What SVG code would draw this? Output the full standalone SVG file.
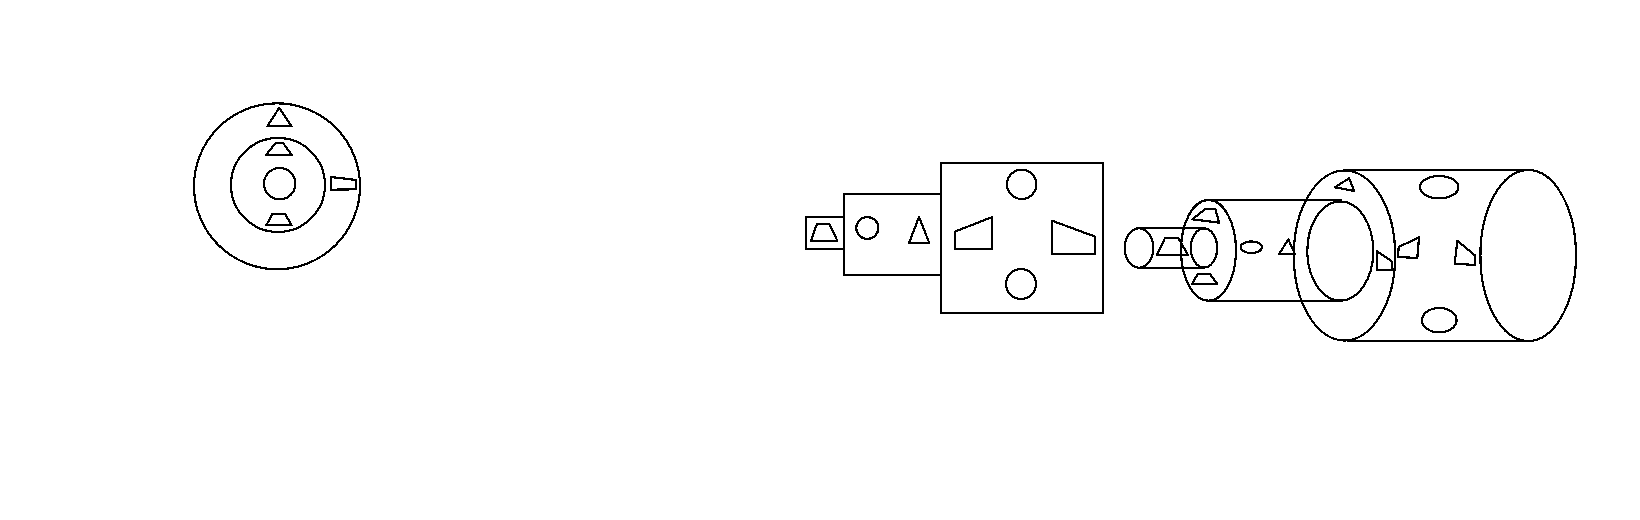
<svg xmlns="http://www.w3.org/2000/svg" width="1640" height="520" viewBox="0 0 1640 520">
<style>
.s{fill:none;stroke:#000;stroke-width:2.2;shape-rendering:crispEdges;stroke-linejoin:round}
</style>
<rect width="1640" height="520" fill="#fff"/>
<g id="end-view" class="s">
<circle cx="277" cy="186.3" r="83"/>
<circle cx="278" cy="185" r="47"/>
<circle cx="279.7" cy="183.7" r="15.7"/>
<polygon points="279.3,107.7 267.3,126.3 291.7,126.3"/>
<polygon points="275.3,143.3 283.3,143.3 291.7,155 266,155"/>
<polygon points="272.3,214 285,214 291.7,225.3 266.3,225.3"/>
<polygon points="331,177 356.3,180 355.7,189.3 331,189.7"/>
</g>
<g id="side-view" class="s">
<rect x="805.7" y="216.7" width="38" height="32"/>
<rect x="843.7" y="193.7" width="97" height="81.3"/>
<rect x="941" y="163" width="162" height="150"/>
<polygon points="817,223.7 829.3,223.7 837.3,240.7 811,240.7"/>
<circle cx="867.3" cy="228" r="11"/>
<polygon points="919,217 909,243 929.3,243"/>
<circle cx="1021.7" cy="184.3" r="14.7"/>
<circle cx="1021" cy="284" r="15"/>
<polygon points="954.7,231.7 992.3,217 992.3,248.7 954.7,248.7"/>
<polygon points="1052,220.7 1095.3,236.7 1095.3,254 1052,254"/>
</g>
<g id="perspective-view" class="s">
<ellipse cx="1139" cy="248" rx="14.3" ry="19.7"/>
<path d="M1139 228H1205.7M1140 268H1205"/>
<ellipse cx="1204" cy="248" rx="13.2" ry="19.5"/>
<polygon points="1165,238 1178.3,238 1188,255 1156.7,255"/>
<ellipse cx="1208.5" cy="250.3" rx="27.5" ry="50.3"/>
<path d="M1211.7 200H1342.3M1208 301H1343"/>
<polygon points="1205,209.3 1215.3,209 1219.3,222.7 1192.3,219.3"/>
<polygon points="1197.7,274 1210,274 1217.3,284 1192,284"/>
<ellipse cx="1251.3" cy="247.2" rx="10.7" ry="5.8"/>
<polygon points="1288.3,239.3 1279,254.3 1295,254.3"/>
<ellipse cx="1344.5" cy="255.5" rx="50.7" ry="85"/>
<ellipse cx="1340.3" cy="251" rx="33" ry="49.5"/>
<path d="M1345 170H1530M1346.7 341H1530"/>
<ellipse cx="1528.2" cy="255.5" rx="47.8" ry="85.5"/>
<polygon points="1349,178.3 1354.3,191 1335,187.3"/>
<ellipse cx="1439.2" cy="187.2" rx="19.2" ry="11.2"/>
<ellipse cx="1439.3" cy="320.2" rx="17.3" ry="12.2"/>
<polygon points="1376.7,251 1391.7,261.3 1391.7,270 1376.7,270"/>
<polygon points="1398.7,247 1419,237.3 1417.3,258 1398,257"/>
<polygon points="1457.3,240.7 1475.3,255.7 1475.3,265 1454.7,263.7"/>
</g>
</svg>
